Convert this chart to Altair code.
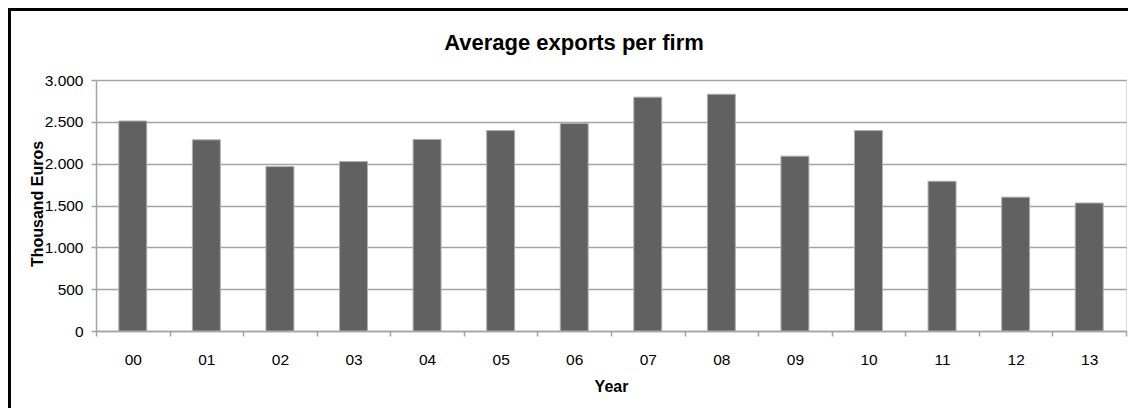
import altair as alt
import pandas as pd

title_text = "Average exports per firm"
years = ["00", "01", "02", "03", "04", "05", "06", "07", "08", "09", "10", "11", "12", "13"]
values = [2510, 2285, 1965, 2025, 2290, 2395, 2480, 2795, 2830, 2090, 2395, 1790, 1600, 1530]
y_ticks = [0, 500, 1000, 1500, 2000, 2500, 3000]

df = pd.DataFrame({"year": years, "value": values})
title_df = pd.DataFrame({"t": [title_text]})

FONT = "Liberation Sans, Arial, sans-serif"
GRID = "#a3a3a3"
W, H = 1030, 251

bars = alt.Chart(df).mark_bar(
    width=alt.RelativeBandSize(0.38), color="#616161", stroke="#b0b0b0", strokeWidth=1
).encode(
    x=alt.X("year:N", sort=years,
            scale=alt.Scale(paddingInner=0, paddingOuter=0),
            axis=alt.Axis(title="Year", labelAngle=0, tickBand="extent", grid=False,
                          domainColor=GRID, domainWidth=1.5, tickColor=GRID, tickWidth=1.5,
                          tickSize=5, labelPadding=28, labelBaseline="alphabetic",
                          labelFontSize=15.5, labelColor="#000",
                          labelFont=FONT, titleFont=FONT, titleFontSize=16, titleFontWeight="bold",
                          titleColor="#000", titleY=60, titleBaseline="alphabetic")),
    y=alt.Y("value:Q",
            scale=alt.Scale(domain=[0, 3000], nice=False),
            axis=alt.Axis(title="Thousand Euros", values=y_ticks,
                          labelExpr="replace(format(datum.value, ','), ',', '.')",
                          grid=True, gridColor=GRID, gridWidth=1.5,
                          domainColor=GRID, domainWidth=1.5, tickColor=GRID, tickWidth=1.5,
                          tickSize=5, labelPadding=8, labelFontSize=15.5, labelColor="#000",
                          labelFont=FONT, titleFont=FONT, titleFontSize=16, titleFontWeight="bold",
                          titleColor="#000", titleX=-54, titleY=123.5, titleAngle=270,
                          titleAlign="center", titleBaseline="alphabetic")),
)

title_mark = alt.Chart(title_df).mark_text(
    font=FONT, fontSize=22, fontWeight="bold", color="#000", align="center", baseline="alphabetic"
).encode(text="t:N", x=alt.value(478), y=alt.value(-30))

border_left = alt.Chart(df).mark_rule(color="#000", strokeWidth=2.5).encode(
    x=alt.value(-87), y=alt.value(-71), y2=alt.value(H + 80)
)
border_top = alt.Chart(df).mark_rule(color="#000", strokeWidth=2.5).encode(
    x=alt.value(-88), x2=alt.value(W + 2), y=alt.value(-71)
)

chart = alt.layer(bars, title_mark, border_left, border_top).properties(
    width=W, height=H,
    autosize=alt.AutoSizeParams(type="none"),
    padding={"left": 88, "top": 72, "right": 2, "bottom": 77},
).configure_view(stroke=None).configure(background="white")

chart.save("out.html", embed_options={"renderer": "svg", "actions": False})
